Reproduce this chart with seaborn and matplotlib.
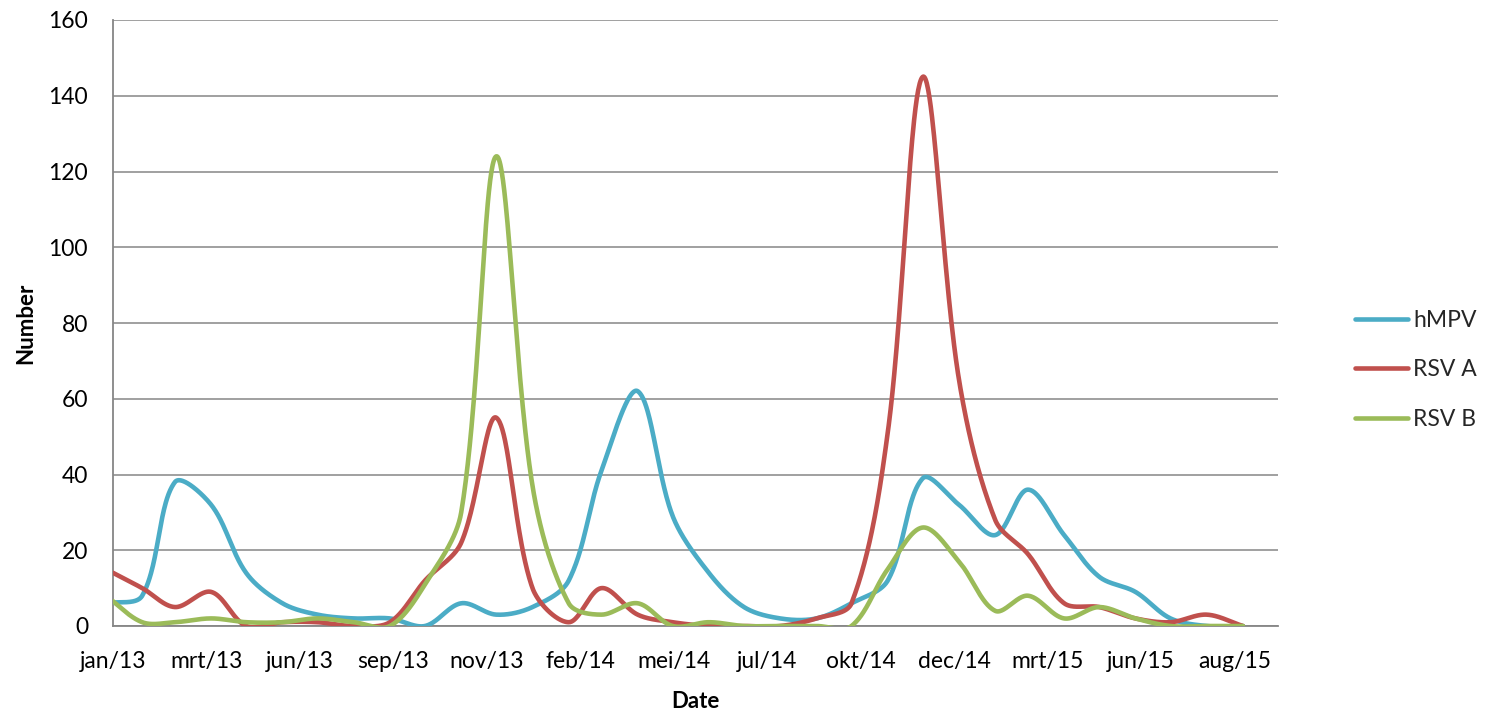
import numpy as np
import pandas as pd
import matplotlib
matplotlib.use("Agg")
import matplotlib.pyplot as plt
import matplotlib.dates as mdates
from matplotlib.lines import Line2D
import seaborn as sns

# Monthly counts, January 2013 - September 2015
months = pd.date_range("2013-01-01", "2015-09-01", freq="MS")
hmpv = [6, 8, 38, 32, 14, 6, 3, 2, 2, 0, 6, 3,
        5, 12, 41, 62, 29, 14, 5, 2, 2, 6, 12, 39,
        32, 24, 36, 24, 13, 9, 2, 0, 0]
rsv_a = [15, 10, 5, 9, 0, 1, 1, 0, 1, 12, 22, 55,
         10, 1, 10, 3, 1, 0, 0, 0, 2, 6, 51, 145,
         65, 28, 19, 6, 5, 2, 1, 3, 0]
rsv_b = [8, 1, 1, 2, 1, 1, 2, 1, 0, 11, 30, 124,
         37, 6, 3, 6, 0, 1, 0, 0, 0, 0, 15, 26,
         17, 4, 8, 2, 5, 2, 0, 0, 0]

series_names = ["hMPV", "RSV A", "RSV B"]
series_values = [hmpv, rsv_a, rsv_b]
series_colors = ["#4BACC6", "#C0504D", "#9BBB59"]

tick_labels = ["jan/13", "mrt/13", "jun/13", "sep/13", "nov/13", "feb/14",
               "mei/14", "jul/14", "okt/14", "dec/14", "mrt/15", "jun/15", "aug/15"]
axis_start = pd.Timestamp("2013-01-07")
axis_end = pd.Timestamp("2015-10-01")
tick_step_days = 80
y_ticks = list(range(0, 161, 20))

W, H = 1486, 714
AX_LEFT, AX_BOTTOM, AX_W, AX_H = 113, 88, 1165, 606


def smooth_curve(x, y, sx, sy, steps=48):
    """Bezier smoothing through every point.

    Tangents follow the neighbouring points; each handle is shortened or
    lengthened according to the length of its own segment on screen
    (sx, sy convert data units to pixels)."""
    P = np.column_stack([np.asarray(x, float) * sx, np.asarray(y, float) * sy])
    Q = np.vstack([P[0], P, P[-1]])
    n = len(P)
    t = np.linspace(0, 1, steps, endpoint=False)[:, None]
    pts = []
    for i in range(n - 1):
        a, b = Q[i + 1], Q[i + 2]
        prev_, next_ = Q[i], Q[i + 3]
        la_in = np.linalg.norm(a - prev_)
        lab = np.linalg.norm(b - a)
        lb_out = np.linalg.norm(next_ - b)
        ta = (b - prev_) / 6.0
        tb = (next_ - a) / 6.0
        fa = 2 * lab / (la_in + lab) if la_in + lab > 0 else 1.0
        fb = 2 * lab / (lab + lb_out) if lab + lb_out > 0 else 1.0
        c1 = a + ta * fa
        c2 = b - tb * fb
        seg = ((1 - t) ** 3) * a + 3 * ((1 - t) ** 2) * t * c1 \
            + 3 * (1 - t) * t ** 2 * c2 + t ** 3 * b
        pts.append(seg)
    pts.append(P[-1:])
    pts = np.vstack(pts)
    return pts[:, 0] / sx, pts[:, 1] / sy


x_num = mdates.date2num(months.to_pydatetime())
x0 = mdates.date2num(axis_start.to_pydatetime())
x1 = mdates.date2num(axis_end.to_pydatetime())
px_per_day = AX_W / (x1 - x0)
px_per_unit = AX_H / 160.0

frames = []
for name, vals in zip(series_names, series_values):
    cx, cy = smooth_curve(x_num, vals, px_per_day, px_per_unit)
    frames.append(pd.DataFrame({"t": cx, "value": cy, "series": name}))
curves = pd.concat(frames, ignore_index=True)

sns.set_theme(style="white")
plt.rcParams["font.family"] = ["Lato", "DejaVu Sans"]

fig = plt.figure(figsize=(W / 100, H / 100), dpi=100)
ax = fig.add_axes([AX_LEFT / W, AX_BOTTOM / H, AX_W / W, AX_H / H])

grid_color = "#868686"
sns.lineplot(data=curves, x="t", y="value", hue="series", hue_order=series_names,
             palette=series_colors, sort=False, estimator=None, units="series",
             linewidth=3.3, solid_capstyle="round", solid_joinstyle="round",
             legend=False, ax=ax, zorder=3)

ax.set_xlim(x0, x1)
ax.set_ylim(0, 160)

ax.set_xticks([x0 + tick_step_days * k for k in range(len(tick_labels))])
ax.set_xticklabels(tick_labels)
ax.set_yticks(y_ticks)
ax.set_yticklabels([str(v) for v in y_ticks])
ax.tick_params(axis="both", length=0, labelsize=16.5, colors="black")
ax.tick_params(axis="x", pad=18)
ax.tick_params(axis="y", pad=18)

ax.grid(axis="y", color=grid_color, linewidth=1.1)
ax.grid(axis="x", visible=False)
for side in ["top", "right"]:
    ax.spines[side].set_visible(False)
for side in ["left", "bottom"]:
    ax.spines[side].set_color(grid_color)
    ax.spines[side].set_linewidth(1.3)

ax.set_xlabel("Date", fontsize=16, fontweight="bold", color="black")
ax.set_ylabel("Number", fontsize=16, fontweight="bold", color="black")
ax.xaxis.set_label_coords(0.5, -0.108)
ax.yaxis.set_label_coords(-0.066, 0.5)

handles = [Line2D([0], [0], color=c, linewidth=3.3, solid_capstyle="round")
           for c in series_colors]
fig.legend(handles, series_names, loc="center left",
           bbox_to_anchor=(1355 / W, 1 - 370 / H), frameon=False,
           fontsize=16.5, handlelength=2.3, handletextpad=0.25,
           labelspacing=1.25, borderpad=0, borderaxespad=0)

fig.savefig("out.png", dpi=100, facecolor="white")
